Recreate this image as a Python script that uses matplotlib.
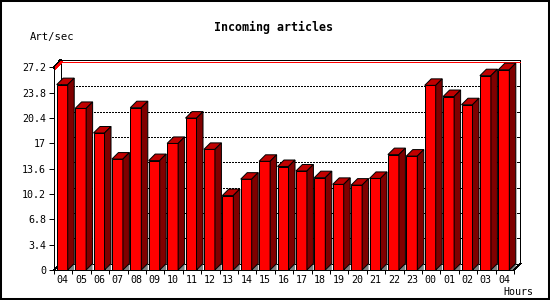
import matplotlib
matplotlib.use('Agg')
import matplotlib.pyplot as plt
from matplotlib.patches import Polygon, Rectangle
import numpy as np

plt.rcParams['lines.antialiased'] = False

# ---- data ----
hours = ['04', '05', '06', '07', '08', '09', '10', '11', '12', '13', '14', '15',
         '16', '17', '18', '19', '20', '21', '22', '23', '00', '01', '02', '03', '04']
values = [24.9, 21.7, 18.4, 14.9, 21.8, 14.7, 17.0, 20.4, 16.2, 10.0, 12.2, 14.6,
          13.9, 13.3, 12.4, 11.5, 11.4, 12.3, 15.5, 15.3, 24.8, 23.3, 22.2, 26.1, 26.9]
ytick_vals = [0, 3.4, 6.8, 10.2, 13.6, 17, 20.4, 23.8, 27.2]
ytick_labels = ['0', '3.4', '6.8', '10.2', '13.6', '17', '20.4', '23.8', '27.2']
y_max = 27.2
title = 'Incoming articles'
ylabel = 'Art/sec'
xlabel = 'Hours'

# ---- layout ----
W, H = 550, 300
fig = plt.figure(figsize=(5.5, 3), dpi=100)
fig.patch.set_facecolor('white')
n = len(values)
PX = 18.4     # pixels per category
PY = 7.445    # pixels per value unit
L, B = 54, 270
R = L + n * PX + 8
T = 58
ax = fig.add_axes([L / W, 1 - B / H, (R - L) / W, (B - T) / H])
ax.set_xlim(0, (R - L) / PX)
ax.set_ylim(0, (B - T) / PY)
ax.patch.set_alpha(0)
DX = 6.5 / PX
DY = 6.5 / PY
px = 0.72  # one pixel in points
mono = 'DejaVu Sans Mono'

for s in ['top', 'right']:
    ax.spines[s].set_visible(False)
ax.spines['left'].set_bounds(0, y_max)
ax.spines['bottom'].set_bounds(0, n)
for s in ['left', 'bottom']:
    ax.spines[s].set_linewidth(px)
    ax.spines[s].set_zorder(6)
    ax.spines[s].set_antialiased(False)

ax.set_yticks(ytick_vals, ytick_labels)
ax.tick_params(axis='y', length=3.6, width=px, pad=2, labelsize=7.2)
for t in ax.get_yticklabels():
    t.set_fontfamily(mono)

ax.set_xticks(np.arange(n + 1), [''] * (n + 1))
ax.set_xticks(np.arange(n) + 0.47, hours, minor=True)
ax.tick_params(axis='x', which='major', length=3.0, width=px)
ax.tick_params(axis='x', which='minor', length=0, pad=3.5, labelsize=7.2)
for t in ax.get_xticklabels(minor=True):
    t.set_fontfamily(mono)

# back plane grid
for lv in ytick_vals[1:-1]:
    ax.plot([DX, n + DX], [lv + DY] * 2, color='black', lw=px,
            ls=(0, (2, 2)), zorder=1, clip_on=False)
    ax.plot([n + DX - 3.5 / PX, n + DX], [lv + DY] * 2, color='black',
            lw=px, zorder=1, clip_on=False)

top_y = y_max + DY
blk_y = top_y + 1 / PY
red_y = top_y - 0.8 / PY
# back frame
ax.plot([DX, DX], [DY, blk_y], color='black', lw=px, zorder=1, clip_on=False)
ax.plot([n + DX, n + DX], [DY, blk_y], color='black', lw=px, zorder=1, clip_on=False)
ax.plot([DX, n + DX], [blk_y] * 2, color='black', lw=px, zorder=1, clip_on=False)
ax.plot([DX + 1 / PX, n + DX], [red_y] * 2, color='#ff0000', lw=px, zorder=1.5, clip_on=False)
ax.plot([0, DX], [y_max, blk_y], color='black', lw=px, zorder=1, clip_on=False)
ax.plot([1.2 / PX, DX + 1.2 / PX], [y_max - 0.8 / PY, red_y], color='#ff0000', lw=px,
        zorder=1.5, clip_on=False)
ax.plot([0, DX], [0, DY], color='black', lw=px, zorder=1, clip_on=False)
ax.plot([n, n + DX], [0, DY], color='black', lw=px, zorder=5, clip_on=False)
ax.plot([DX, n + DX], [DY, DY], color='black', lw=px, zorder=1, clip_on=False)

# bars
bw = 11 / PX
centers = np.arange(n) + 0.446
ax.bar(centers, values, width=bw, color='#ff0000', edgecolor='black',
       linewidth=px, zorder=3)
for c, v in zip(centers, values):
    x0 = c - bw / 2
    x1 = c + bw / 2
    ax.add_patch(Polygon([(x0, v), (x0 + DX, v + DY), (x1 + DX, v + DY), (x1, v)],
                         closed=True, facecolor='#c00000', edgecolor='black',
                         lw=px, zorder=3, clip_on=False))
    ax.add_patch(Polygon([(x1, 0), (x1 + DX, DY), (x1 + DX, v + DY), (x1, v)],
                         closed=True, facecolor='#800000', edgecolor='black',
                         lw=px, zorder=3, clip_on=False))
    ax.add_patch(Polygon([(x1, 0), (x1 + DX, DY), (x1 + DX, 0)],
                         closed=True, facecolor='#808080', edgecolor='none',
                         zorder=2.5, clip_on=False))

# texts
fig.text(274 / W, 1 - 27 / H, title, ha='center', va='center',
         fontsize=8.4, fontweight='bold', family=mono)
fig.text(52 / W, 1 - 37 / H, ylabel, ha='center', va='center',
         fontsize=7.6, family=mono)
fig.text(518 / W, 1 - 292 / H, xlabel, ha='center', va='center',
         fontsize=7.2, family=mono)

# outer border
fig.add_artist(Rectangle((0, 0), 1, 1, transform=fig.transFigure, fill=False,
                         edgecolor='black', lw=2.9))

fig.savefig('out.png', dpi=100)
